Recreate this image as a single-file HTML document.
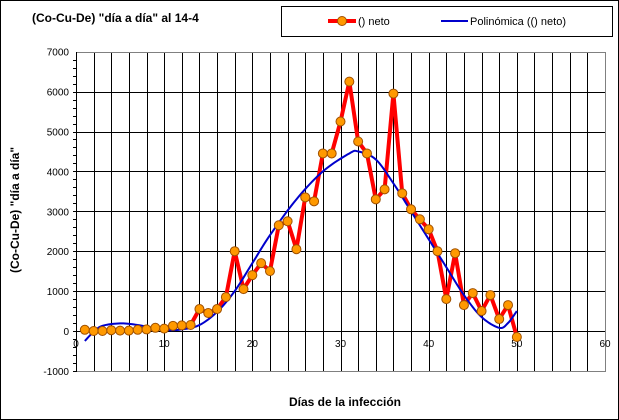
<!DOCTYPE html>
<html><head><meta charset="utf-8"><style>
body{margin:0;background:#fff}
svg{display:block;font-family:"Liberation Sans",Arial,sans-serif}
</style></head><body>
<svg id="s" width="619" height="420" xmlns="http://www.w3.org/2000/svg">
<rect x="0.5" y="0.5" width="618" height="419" fill="#fff" stroke="#000"/>
<text x="32" y="22" font-size="12" font-weight="bold">(Co-Cu-De)  "día a día" al 14-4</text>
<rect x="281.5" y="6.5" width="331" height="30" fill="#fff" stroke="#000"/>
<line x1="328" y1="21" x2="356" y2="21" stroke="#f00" stroke-width="4"/>
<circle cx="342" cy="21" r="4.5" fill="#f90" stroke="#a05000"/>
<text x="358" y="25" font-size="11">() neto</text>
<line x1="441" y1="21" x2="468" y2="21" stroke="#00c" stroke-width="2"/>
<text x="470" y="25" font-size="11">Polinómica (() neto)</text>
<g id="grid"></g>
<text transform="translate(19,210) rotate(-90)" text-anchor="middle" font-size="12" font-weight="bold">(Co-Cu-De)  "día a día"</text>
<text x="345" y="406" text-anchor="middle" font-size="12" font-weight="bold">Días de la infección</text>
</svg>
<script>
var s=document.getElementById('s'),g=document.getElementById('grid'),h='';
function X(d){return 76+d*8.817}function Y(v){return 331-v*0.0399}
function R(v){return Math.round(v)+0.5}
for(var d=2;d<60;d+=2)h+='<line x1="'+R(X(d))+'" y1="52" x2="'+R(X(d))+'" y2="371" stroke="#000" stroke-width="1"/>';
for(var v=-1000;v<=7000;v+=1000){h+='<line x1="76" y1="'+R(Y(v))+'" x2="605" y2="'+R(Y(v))+'" stroke="#000"/>';
h+='<text x="69" y="'+(Y(v)+4)+'" text-anchor="end" font-size="10">'+v+'</text>';}
for(var v=-1000;v<7000;v+=200)h+='<line x1="73" y1="'+R(Y(v))+'" x2="76" y2="'+R(Y(v))+'" stroke="#000"/>';
h+='<rect x="76.5" y="52.5" width="529" height="319" fill="none" stroke="#808080"/>';
h+='<line x1="76.5" y1="52" x2="76.5" y2="372" stroke="#000"/>';
for(var d=0;d<=60;d+=10)h+='<text x="'+X(d)+'" y="347" text-anchor="middle" font-size="10">'+d+'</text>';
var D=[30,0,0,20,10,10,30,40,80,60,130,140,150,550,450,550,850,2000,1050,1400,1700,1500,2650,2750,2050,3350,3250,4450,4450,5250,6250,4750,4450,3300,3550,5950,3450,3050,2800,2550,2000,800,1950,650,950,500,900,300,650,-150];
var p=D.map(function(v,i){return X(i+1)+','+Y(v)}).join(' ');
var P=[[1,-250],[2,-20],[3,130],[5,190],[7,150],[10,30],[12,40],[14,150],[16,480],[18,1000],[20,1700],[22,2400],[25,3300],[28,4000],[31,4450],[32,4500],[34,4300],[36,3700],[38,3000],[40,2300],[42,1600],[44,900],[46,350],[48,80],[49,200],[50,500]];
var q=[];for(var i=0;i<P.length-1;i++){var a=P[i-1]||P[i],b=P[i],c=P[i+1],e=P[i+2]||c;for(var t=0;t<1;t+=0.1){var t2=t*t,t3=t2*t;function f(k){return 0.5*((2*b[k])+(-a[k]+c[k])*t+(2*a[k]-5*b[k]+4*c[k]-e[k])*t2+(-a[k]+3*b[k]-3*c[k]+e[k])*t3)}q.push(X(f(0))+','+Y(f(1)));}}
q.push(X(50)+','+Y(500));
h+='<polyline points="'+p+'" fill="none" stroke="#f00" stroke-width="4" stroke-linejoin="round"/>';
h+='<polyline points="'+q.join(' ')+'" fill="none" stroke="#00c" stroke-width="2"/>';
D.forEach(function(v,i){h+='<circle cx="'+X(i+1)+'" cy="'+Y(v)+'" r="4.5" fill="#f90" stroke="#a05000"/>'});
g.innerHTML=h;
</script>
</body></html>
